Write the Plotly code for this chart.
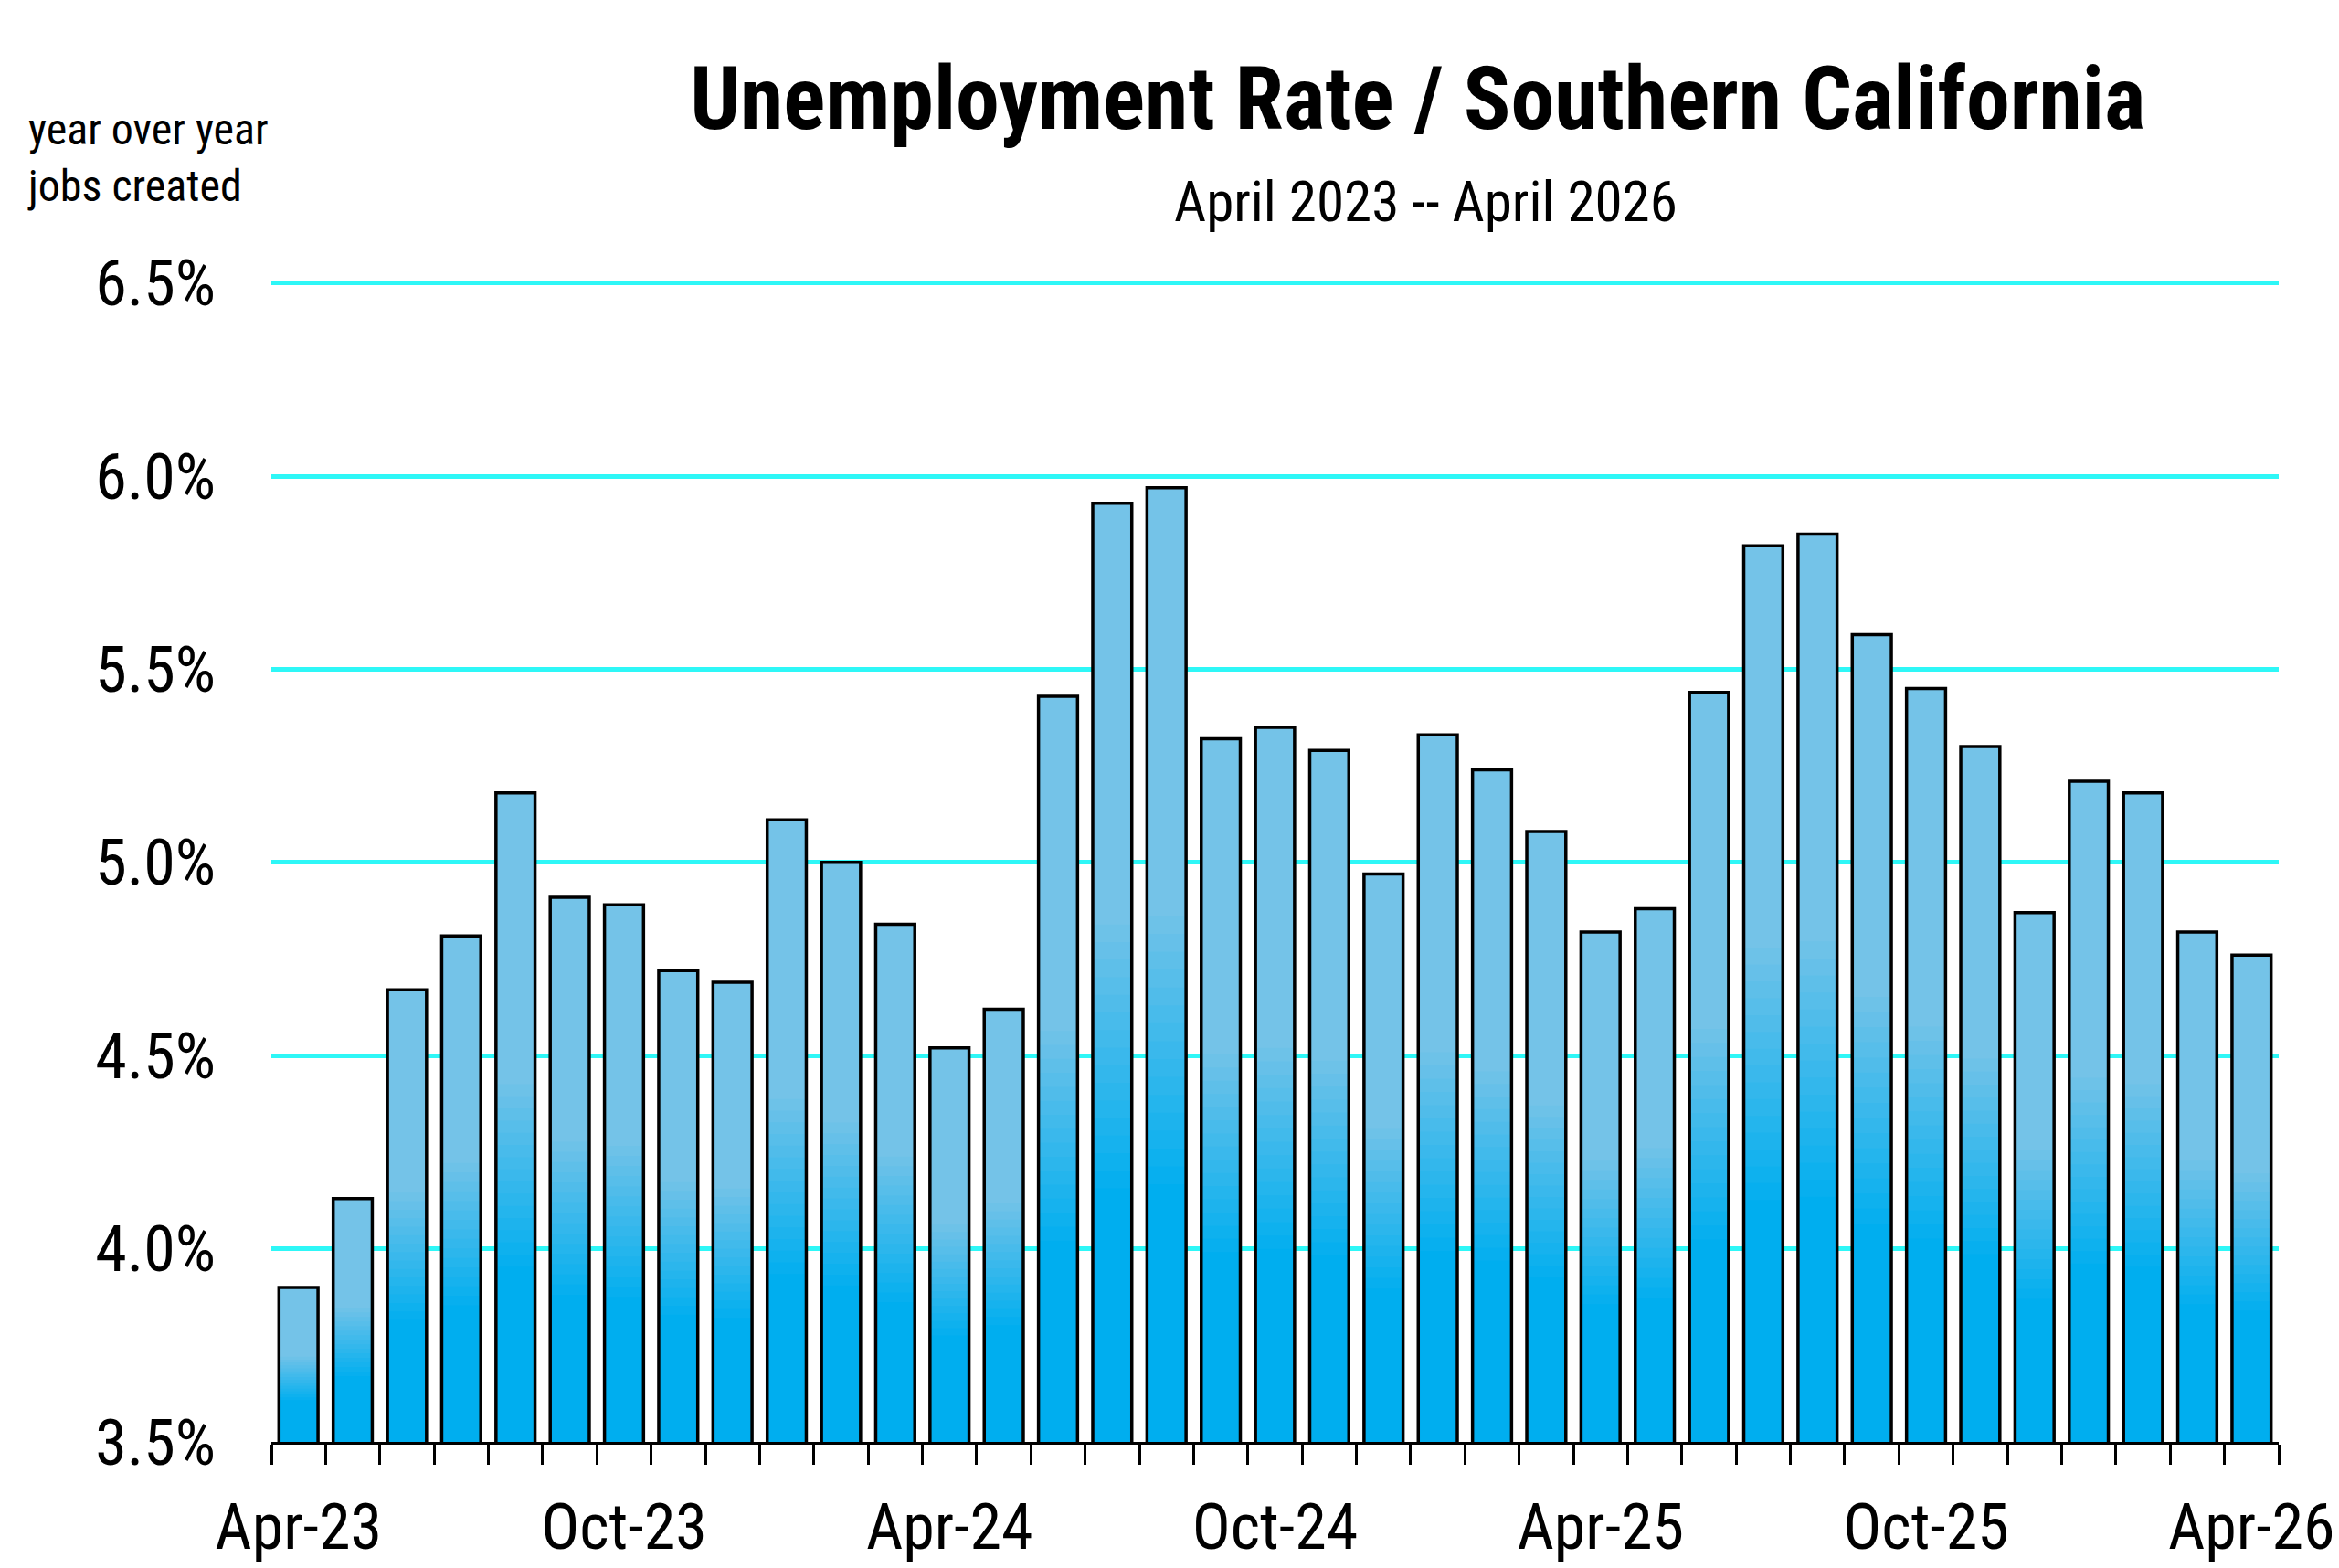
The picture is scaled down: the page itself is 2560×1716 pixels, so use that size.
import plotly.graph_objects as go

# ---- data ----
months = ["Apr-23", "May-23", "Jun-23", "Jul-23", "Aug-23", "Sep-23", "Oct-23", "Nov-23", "Dec-23",
          "Jan-24", "Feb-24", "Mar-24", "Apr-24", "May-24", "Jun-24", "Jul-24", "Aug-24", "Sep-24",
          "Oct-24", "Nov-24", "Dec-24", "Jan-25", "Feb-25", "Mar-25", "Apr-25", "May-25", "Jun-25",
          "Jul-25", "Aug-25", "Sep-25", "Oct-25", "Nov-25", "Dec-25", "Jan-26", "Feb-26", "Mar-26",
          "Apr-26"]
rates = [3.90, 4.13, 4.67, 4.81, 5.18, 4.91, 4.89, 4.72, 4.69,
         5.11, 5.00, 4.84, 4.52, 4.62, 5.43, 5.93, 5.97, 5.32,
         5.35, 5.29, 4.97, 5.33, 5.24, 5.08, 4.82, 4.88, 5.44,
         5.82, 5.85, 5.59, 5.45, 5.30, 4.87, 5.21, 5.18, 4.82,
         4.76]
tick_labels = ["Apr-23", "Oct-23", "Apr-24", "Oct-24", "Apr-25", "Oct-25", "Apr-26"]
y_ticks = [3.5, 4.0, 4.5, 5.0, 5.5, 6.0, 6.5]

title = "Unemployment Rate / Southern California"
subtitle = "April 2023 -- April 2026"
side_note = "year over year<br>jobs created"

# ---- styling ----
FONT = "Liberation Sans Narrow, Arial Narrow, Roboto Condensed, Liberation Sans, Arial, sans-serif"
LIGHT = (0x74, 0xC3, 0xE8)
BRIGHT = (0x00, 0xAE, 0xEF)
Y_MIN, Y_MAX = 3.5, 6.5
BAR_W = 0.72

xs = list(range(len(months)))
pos = {m: i for i, m in enumerate(months)}
tick_pos = [pos[t] for t in tick_labels]
boundaries = [i - 0.5 for i in range(len(months) + 1)]

fig = go.Figure()

# light full-height fill
fig.add_trace(go.Bar(x=xs, y=rates, width=BAR_W,
                     marker=dict(color="rgb(%d,%d,%d)" % LIGHT, line=dict(width=0)),
                     hoverinfo="skip", showlegend=False))

# stepped vertical gradient toward the bottom of each bar
steps = 16
f_top, f_bot = 0.57, 0.27
for k in range(1, steps + 1):
    t = k / steps
    f = f_top + (f_bot - f_top) * t
    c = tuple(round(LIGHT[j] + (BRIGHT[j] - LIGHT[j]) * t) for j in range(3))
    heights = [Y_MIN + f * (v - Y_MIN) for v in rates]
    fig.add_trace(go.Bar(x=xs, y=heights, width=BAR_W,
                         marker=dict(color="rgb(%d,%d,%d)" % c, line=dict(width=0)),
                         hoverinfo="skip", showlegend=False))

# outline on top
fig.add_trace(go.Bar(x=xs, y=rates, width=BAR_W, customdata=months,
                     marker=dict(color="rgba(0,0,0,0)", line=dict(color="black", width=3.5)),
                     hovertemplate="%{customdata}: %{y:.2f}%<extra></extra>",
                     showlegend=False))

fig.update_layout(
    width=2560, height=1716,
    barmode="overlay",
    plot_bgcolor="white", paper_bgcolor="white",
    margin=dict(l=289, r=74, t=300, b=125),
    font=dict(family=FONT, color="black"),
    title=dict(text="<b>" + title + "</b>", font=dict(family=FONT, size=96, color="black"),
               xref="container", x=0.603, xanchor="center",
               yref="container", y=0.942, yanchor="middle"),
    xaxis=dict(range=[-0.5, len(months) - 0.5], tickmode="array", tickvals=tick_pos,
               ticktext=tick_labels, ticks="", showgrid=False, zeroline=False,
               showline=True, linecolor="black", linewidth=3,
               tickfont=dict(size=70, family=FONT), ticklabelstandoff=30,
               minor=dict(tickmode="array", tickvals=boundaries, ticks="outside",
                          ticklen=22, tickwidth=3, tickcolor="black", showgrid=False)),
    yaxis=dict(range=[Y_MIN, Y_MAX + 0.004], tickmode="array", tickvals=y_ticks,
               ticktext=["%.1f%%" % v for v in y_ticks], showgrid=True,
               gridcolor="#2EF7F7", gridwidth=4.5, zeroline=False, showline=False,
               ticks="", tickfont=dict(size=70, family=FONT), ticklabelstandoff=60),
    annotations=[
        dict(text=subtitle, xref="paper", yref="paper", x=0.575, y=1.0685,
             xanchor="center", yanchor="middle", showarrow=False,
             font=dict(size=61, family=FONT, color="black")),
        dict(text=side_note, xref="paper", yref="paper", x=-0.1224, y=1.107,
             xanchor="left", yanchor="middle", align="left", showarrow=False,
             font=dict(size=48, family=FONT, color="black")),
    ],
)

fig.write_html("out.html")
